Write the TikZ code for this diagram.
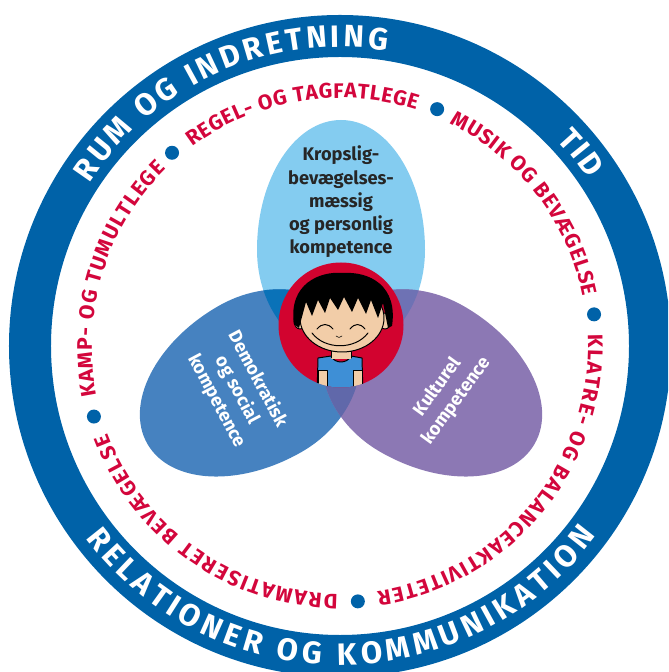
\documentclass[tikz,border=0pt]{standalone}
\usepackage{fontspec}
\setmainfont{Fira Sans}
\usetikzlibrary{decorations.text}

\definecolor{ringblue}{HTML}{0062A8}
\definecolor{leafred}{HTML}{D3063C}
\definecolor{kropblue}{HTML}{84CCF0}
\definecolor{demoblue}{HTML}{4682C0}
\definecolor{kulturlilla}{HTML}{8C78B4}
\definecolor{kropdemo}{HTML}{0A72B8}
\definecolor{kropkultur}{HTML}{6E72B4}
\definecolor{demokultur}{HTML}{6068AA}
\definecolor{facered}{HTML}{D2032F}
\definecolor{skin}{HTML}{F2CDA8}
\definecolor{shirtblue}{HTML}{3E8FD6}

% egg shaped leaf, widest at the origin, tip upwards
\newcommand{\petal}{(84,0) arc[start angle=0, end angle=180, x radius=84, y radius=130] arc[start angle=180, end angle=360, x radius=84, y radius=105] -- cycle}

\begin{document}
\begin{tikzpicture}[scale=0.025,
  ringtext/.style = {decorate, decoration={text along path, text align=fit to path, text={|\fontsize{22}{22}\selectfont\bfseries\color{white}|#1}}},
  redtext/.style = {decorate, decoration={text along path, text align=fit to path, text={|\fontsize{15}{15}\selectfont\bfseries\color{leafred}|#1}}},
  petaltext/.style = {font=\fontsize{13}{16.5}\selectfont\bfseries, align=center, text=white, inner sep=0},
  line/.style = {draw=black, line width=0.7pt, line cap=round, line join=round}]
  \useasboundingbox (-340,-326) rectangle (328,346);
  \clip (-340,-326) rectangle (328,346);
  % outer ring with its labels
  \fill[ringblue, even odd rule] (0,0) circle (331) (0,0) circle (289);
  \path[ringtext={RUM OG INDRETNING}] (147:299) arc[start angle=147, end angle=81, radius=299];
  \path[ringtext={TID}] (43.5:299) arc[start angle=43.5, end angle=34, radius=299];
  \path[ringtext={RELATIONER OG KOMMUNIKATION}] (217:319) arc[start angle=217, end angle=323.5, radius=319];
  % activities, separated by dots
  \path[redtext={REGEL- OG TAGFATLEGE}] (126.6:248) arc[start angle=126.6, end angle=72.1, radius=248];
  \path[redtext={MUSIK OG BEVÆGELSE}] (63.7:248) arc[start angle=63.7, end angle=11.6, radius=248];
  \path[redtext={KLATRE- OG BALANCEAKTIVITETER}] (2.7:248) arc[start angle=2.7, end angle=-81.4, radius=248];
  \path[redtext={DRAMATISERET BEVÆGELSE}] (-90.5:248) arc[start angle=-90.5, end angle=-159.4, radius=248];
  \path[redtext={KAMP- OG TUMULTLEGE}] (-168.4:248) arc[start angle=-168.4, end angle=-225.5, radius=248];
  \foreach \a in {131,67.7,7.1,-86,-164}
    \fill[ringblue] (\a:256) circle (7);
  % the three competences
  \fill[kropblue, shift={(1,96)}] \petal;
  \fill[demoblue, shift={(-80,-33)}, rotate=120] \petal;
  \fill[kulturlilla, shift={(82,-33)}, rotate=-120] \petal;
  \begin{scope}
    \clip[shift={(1,96)}] \petal;
    \fill[kropdemo, shift={(-80,-33)}, rotate=120] \petal;
    \fill[kropkultur, shift={(82,-33)}, rotate=-120] \petal;
  \end{scope}
  \begin{scope}
    \clip[shift={(-80,-33)}, rotate=120] \petal;
    \fill[demokultur, shift={(82,-33)}, rotate=-120] \petal;
  \end{scope}
  \node[petaltext, text=black!85] (krop) at (1,144) {Kropslig-\\bevægelses-\\mæssig\\og personlig\\kompetence};
  \node[petaltext, rotate=-62] (demo) at (-103,-44) {Demokratisk\\og social\\kompetence};
  \node[petaltext, rotate=54] (kultur) at (107,-48) {Kulturel\\kompetence};
  % the child in the middle
  \fill[facered] (1,21) circle (62.5);
  \begin{scope}
    \clip (1,21) circle (62.5);
    \path[line, fill=shirtblue] (-22,-12) -- (-9,-10) .. controls (-5,-18) and (7,-18) .. (11,-10) -- (22,-12) -- (23,-50) -- (-23,-50) -- cycle;
    \path[line, fill=skin] (-22,-24) rectangle (-13,-50);
    \path[line, fill=skin] (13,-24) rectangle (22,-50);
    \fill[skin] (-9,-2) rectangle (11,-13);
    \draw[line] (-9,-2) -- (-9,-12) (11,-2) -- (11,-12);
  \end{scope}
  \path[line, fill=skin] (-40,25) ellipse [x radius=6, y radius=8];
  \path[line, fill=skin] (45,25) ellipse [x radius=6, y radius=8];
  \path[line, fill=skin] (2,28) ellipse [x radius=42, y radius=34];
  \fill[black] (-46,22) .. controls (-52,62) and (-20,75) .. (2,73) .. controls (30,75) and (58,60) .. (52,20)
    -- (48,18) -- (43,43) -- (38,28) -- (31,46) -- (26,32) -- (18,48) -- (12,34) -- (4,49) -- (-2,36)
    -- (-10,48) -- (-15,33) -- (-22,46) -- (-28,30) -- (-34,44) -- (-41,18) -- cycle;
  \draw[line] (-23,17) .. controls (-18,23) and (-12,23) .. (-7,17);
  \draw[line] (10,17) .. controls (15,23) and (20,23) .. (25,17);
  \draw[line] (-28,13) .. controls (-15,-4) and (15,-4) .. (28,13);
  \draw[line, line width=0.4pt] (-4,10) .. controls (-2,8) and (0,8) .. (2,10);
\end{tikzpicture}
\end{document}
